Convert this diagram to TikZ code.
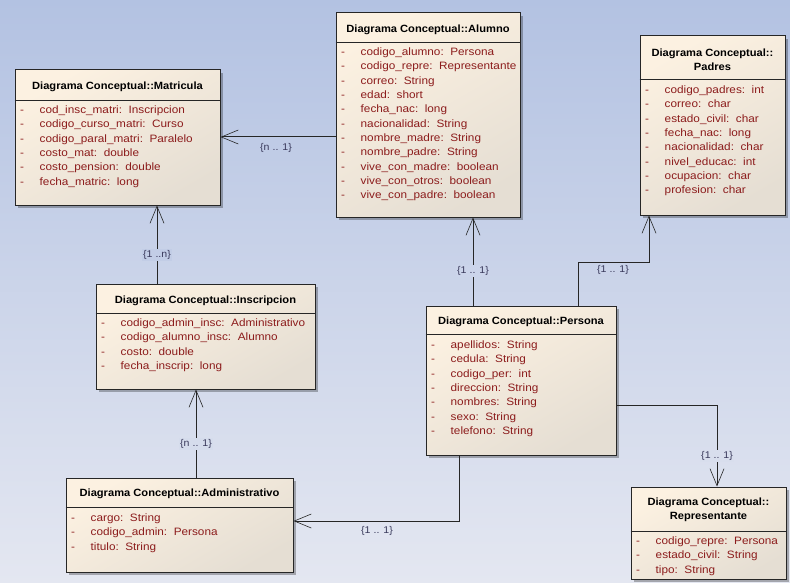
\documentclass[tikz,border=0pt]{standalone}
\usepackage{fontspec}
\setmainfont{Liberation Sans}
\newfontfamily\titlefont[FakeStretch=1.06]{Liberation Sans}
\newfontfamily\attrfont[FakeStretch=1.1]{Liberation Sans}
\newfontfamily\multfont[FakeStretch=1.08]{Liberation Sans}
\usetikzlibrary{arrows.meta,shadows,fit}

\definecolor{bgtop}{HTML}{B3C2E2}
\definecolor{bgbot}{HTML}{E4E7F1}
\definecolor{boxlight}{HTML}{FCF1E1}
\definecolor{boxdark}{HTML}{E5DED3}
\definecolor{attrred}{HTML}{8C1C1C}
\definecolor{multc}{HTML}{3A3A5C}
\definecolor{edgec}{HTML}{262626}

\tikzset{
  classbox/.style={draw=edgec, line width=1pt, inner sep=0pt,
    top color=boxlight, bottom color=boxdark, shading angle=30,
    general shadow={fill=black, opacity=0.28, shadow xshift=3pt, shadow yshift=-3pt}},
  sepline/.style={draw=edgec, line width=0.8pt},
  ctitle/.style={font=\titlefont\fontsize{10.5}{14}\selectfont\bfseries, align=center, inner sep=0pt},
  attr/.style={font=\attrfont\fontsize{10.7}{12}\selectfont, text=attrred, anchor=mid west, inner sep=0pt},
  assoc/.style={draw=edgec, line width=1pt,
    -{Straight Barb[length=17pt,width=14pt,line width=0.6pt]}},
  multlabel/.style={font=\multfont\fontsize{9.8}{11}\selectfont, text=multc, inner sep=1pt},
}

% #1 class name, #2 left x, #3 first row y, #4 attribute list
\newcommand\classattrs[4]{%
  \foreach \t [count=\i from 0] in {#4} {
    \node[attr] (#1-d\i) at (#2+5, #3+\i*14.3) {-};
    \node[attr] (#1-a\i) at (#2+24.5, #3+\i*14.3) {\t};
  }%
}

\begin{document}
\begin{tikzpicture}[x=1pt, y=-1pt]
  \shade[top color=bgtop, bottom color=bgbot] (0,0) rectangle (790,583);
  \useasboundingbox (0,0) rectangle (790,583);

  % ---- Matricula
  \node[classbox, fit={(15,70) (220,205)}] (matricula) {};
  \draw[sepline] (matricula.west |- 0,100) -- (matricula.east |- 0,100);
  \node[ctitle, anchor=mid] (matricula-t) at (117.5,87) {Diagrama Conceptual::Matricula};
  \classattrs{matricula}{15}{111}{cod\_insc\_matri:\ \ Inscripcion, codigo\_curso\_matri:\ \ Curso, codigo\_paral\_matri:\ \ Paralelo, costo\_mat:\ \ double, costo\_pension:\ \ double, fecha\_matric:\ \ long}

  % ---- Alumno
  \node[classbox, fit={(336,13) (520,217)}] (alumno) {};
  \draw[sepline] (alumno.west |- 0,42) -- (alumno.east |- 0,42);
  \node[ctitle, anchor=mid] (alumno-t) at (428,30) {Diagrama Conceptual::Alumno};
  \classattrs{alumno}{336}{53}{codigo\_alumno:\ \ Persona, codigo\_repre:\ \ Representante, correo:\ \ String, edad:\ \ short, fecha\_nac:\ \ long, nacionalidad:\ \ String, nombre\_madre:\ \ String, nombre\_padre:\ \ String, vive\_con\_madre:\ \ boolean, vive\_con\_otros:\ \ boolean, vive\_con\_padre:\ \ boolean}

  % ---- Padres
  \node[classbox, fit={(640,36) (785,215)}] (padres) {};
  \draw[sepline] (padres.west |- 0,79) -- (padres.east |- 0,79);
  \node[ctitle] (padres-t) at (712.5,60) {Diagrama Conceptual::\\Padres};
  \classattrs{padres}{640}{91}{codigo\_padres:\ \ int, correo:\ \ char, estado\_civil:\ \ char, fecha\_nac:\ \ long, nacionalidad:\ \ char, nivel\_educac:\ \ int, ocupacion:\ \ char, profesion:\ \ char}

  % ---- Inscripcion
  \node[classbox, fit={(96,284) (315,389)}] (inscripcion) {};
  \draw[sepline] (inscripcion.west |- 0,313) -- (inscripcion.east |- 0,313);
  \node[ctitle, anchor=mid] (inscripcion-t) at (205.5,301) {Diagrama Conceptual::Inscripcion};
  \classattrs{inscripcion}{96}{324}{codigo\_admin\_insc:\ \ Administrativo, codigo\_alumno\_insc:\ \ Alumno, costo:\ \ double, fecha\_inscrip:\ \ long}

  % ---- Persona
  \node[classbox, fit={(426,306) (616,455)}] (persona) {};
  \draw[sepline] (persona.west |- 0,334) -- (persona.east |- 0,334);
  \node[ctitle, anchor=mid] (persona-t) at (521,322) {Diagrama Conceptual::Persona};
  \classattrs{persona}{426}{346}{apellidos:\ \ String, cedula:\ \ String, codigo\_per:\ \ int, direccion:\ \ String, nombres:\ \ String, sexo:\ \ String, telefono:\ \ String}

  % ---- Administrativo
  \node[classbox, fit={(66,478) (293,572)}] (administrativo) {};
  \draw[sepline] (administrativo.west |- 0,507) -- (administrativo.east |- 0,507);
  \node[ctitle, anchor=mid] (administrativo-t) at (179.5,494) {Diagrama Conceptual::Administrativo};
  \classattrs{administrativo}{66}{519}{cargo:\ \ String, codigo\_admin:\ \ Persona, titulo:\ \ String}

  % ---- Representante
  \node[classbox, fit={(631,487) (786,579)}] (representante) {};
  \draw[sepline] (representante.west |- 0,531) -- (representante.east |- 0,531);
  \node[ctitle] (representante-t) at (708.5,510) {Diagrama Conceptual::\\Representante};
  \classattrs{representante}{631}{542}{codigo\_repre:\ \ Persona, estado\_civil:\ \ String, tipo:\ \ String}

  % ---- associations
  \draw[assoc] (alumno.west |- 0,137) -- (matricula.east |- 0,137);
  \draw[assoc] (inscripcion.north -| 157,0) -- (matricula.south -| 157,0);
  \draw[assoc] (administrativo.north -| 196,0) -- (inscripcion.south -| 196,0);
  \draw[assoc] (persona.north -| 473,0) -- (alumno.south -| 473,0);
  \draw[assoc] (persona.north -| 578,0) |- (649,262) -- (padres.south -| 649,0);
  \draw[assoc] (persona.east |- 0,405) -| (representante.north -| 717,0);
  \draw[assoc] (persona.south -| 459,0) |- (administrativo.east |- 0,521);

  % ---- multiplicities
  \node[multlabel] (m1) at (276,148) {\{n .. 1\}};
  \node[multlabel, fill=bgtop!70!bgbot] (m2) at (157,255) {\{1 ..n\}};
  \node[multlabel, fill=bgtop!30!bgbot] (m3) at (196,444) {\{n .. 1\}};
  \node[multlabel, fill=bgtop!50!bgbot] (m4) at (473,271) {\{1 .. 1\}};
  \node[multlabel] (m5) at (613,270) {\{1 .. 1\}};
  \node[multlabel, fill=bgtop!25!bgbot] (m6) at (717,456) {\{1 .. 1\}};
  \node[multlabel] (m7) at (377,531) {\{1 .. 1\}};
\end{tikzpicture}
\end{document}
